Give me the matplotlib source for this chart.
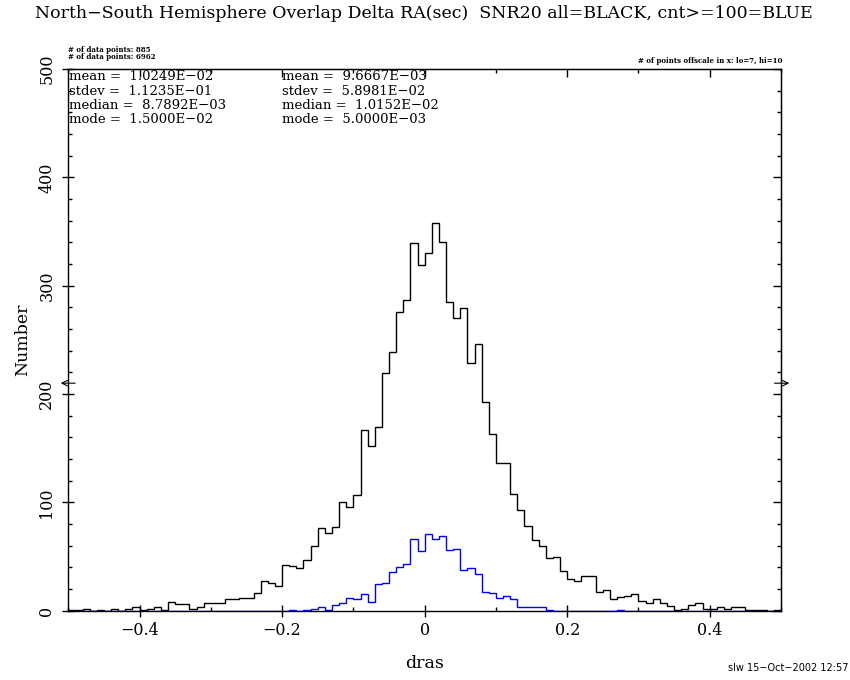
import numpy as np
import matplotlib
matplotlib.use('Agg')
import matplotlib.pyplot as plt
from matplotlib.ticker import FixedLocator, MultipleLocator
from matplotlib.transforms import blended_transform_factory

# bin edges: 0.01 wide from -0.5 to 0.5
BIN_EDGES = np.round(np.arange(-0.50, 0.5001, 0.01), 2)

# all sources (black), one count per bin
ALL_COUNTS = [
    1, 1, 2, 0, 1, 0, 2, 0, 2, 3,          # -0.50 .. -0.41
    1, 2, 3, 1, 8, 6, 6, 2, 3, 7,          # -0.40 .. -0.31
    7, 7, 11, 11, 12, 12, 16, 27, 26, 23,  # -0.30 .. -0.21
    42, 41, 39, 47, 60, 76, 72, 77, 100, 96,      # -0.20 .. -0.11
    107, 167, 152, 170, 219, 239, 276, 287, 339, 319,  # -0.10 .. -0.01
    330, 358, 340, 285, 270, 279, 229, 246, 193, 163,  # 0.00 .. 0.09
    136, 136, 108, 93, 78, 65, 60, 49, 50, 37,    # 0.10 .. 0.19
    29, 27, 32, 32, 17, 19, 11, 13, 14, 15,       # 0.20 .. 0.29
    9, 7, 11, 7, 4, 1, 2, 5, 7, 2,                # 0.30 .. 0.39
    2, 3, 2, 3, 3, 1, 1, 1, 0, 1,                 # 0.40 .. 0.49
]

# cnt>=100 subset (blue)
CNT100_COUNTS = [
    0, 0, 0, 0, 0, 0, 0, 0, 0, 0,
    0, 0, 0, 0, 0, 0, 0, 0, 0, 0,
    0, 0, 0, 0, 0, 0, 0, 0, 0, 0,
    0, 1, 0, 1, 2, 3, 1, 5, 7, 12,
    11, 15, 8, 25, 26, 36, 40, 43, 66, 55,
    71, 66, 69, 56, 57, 38, 39, 34, 17, 16,
    12, 14, 11, 3, 3, 3, 3, 1, 0, 0,
    0, 0, 0, 0, 0, 0, 0, 1, 0, 0,
    0, 0, 0, 0, 0, 0, 0, 0, 0, 0,
    0, 0, 0, 0, 0, 0, 0, 0, 0, 0,
]

XTICKS = [-0.4, -0.2, 0.0, 0.2, 0.4]
XTICK_LABELS = ['\u22120.4', '\u22120.2', '0', '0.2', '0.4']
YTICKS = [0, 100, 200, 300, 400, 500]
YTICK_LABELS = ['0', '100', '200', '300', '400', '500']
ARROW_Y = 210  # offscale marker level

STATS_ALL = ['mean =  1.0249E\u221202', 'stdev =  1.1235E\u221201',
             'median =  8.7892E\u221203', 'mode =  1.5000E\u221202']
STATS_CNT = ['mean =  9.6667E\u221203', 'stdev =  5.8981E\u221202',
             'median =  1.0152E\u221202', 'mode =  5.0000E\u221203']

SERIF = 'DejaVu Serif'
BLUE = '#0000FF'

fig = plt.figure(figsize=(8.5, 6.8), dpi=100)
ax = fig.add_axes([68.3 / 850, 69.3 / 680, 712.7 / 850, 541.7 / 680])

ax.stairs(ALL_COUNTS, BIN_EDGES, color='black', lw=1.0)
ax.stairs(CNT100_COUNTS, BIN_EDGES, color=BLUE, lw=1.0)

ax.set_xlim(-0.5, 0.5)
ax.set_ylim(0, 500)
for s in ax.spines.values():
    s.set_linewidth(1.0)

ax.xaxis.set_major_locator(FixedLocator(XTICKS))
ax.xaxis.set_minor_locator(MultipleLocator(0.1))
ax.yaxis.set_major_locator(FixedLocator(YTICKS))
ax.yaxis.set_minor_locator(MultipleLocator(20))
ax.set_xticklabels(XTICK_LABELS, family=SERIF, fontsize=11.5)
ax.set_yticklabels(YTICK_LABELS, family=SERIF, fontsize=11.5, rotation=90, va='center')
ax.tick_params(which='major', direction='inout', length=8.6, width=1.0)
ax.tick_params(which='minor', direction='in', length=3.0, width=1.0)
ax.tick_params(axis='x', which='major', pad=4.0)
ax.tick_params(axis='y', which='major', pad=5.0)

# ticks on the top and right, inside only
top = ax.secondary_xaxis('top')
top.xaxis.set_major_locator(FixedLocator(XTICKS))
top.xaxis.set_minor_locator(MultipleLocator(0.1))
top.tick_params(which='major', direction='in', length=5.8, width=1.0, labeltop=False)
top.tick_params(which='minor', direction='in', length=3.0, width=1.0)
right = ax.secondary_yaxis('right')
right.yaxis.set_major_locator(FixedLocator(YTICKS))
right.yaxis.set_minor_locator(MultipleLocator(20))
right.tick_params(which='major', direction='in', length=5.8, width=1.0, labelright=False)
right.tick_params(which='minor', direction='in', length=3.0, width=1.0)

ax.set_xlabel('dras', family=SERIF, fontsize=12.5, labelpad=11)
ax.set_ylabel('Number', family=SERIF, fontsize=12.5, labelpad=5)

# offscale arrows
tr = blended_transform_factory(ax.transAxes, ax.transData)
ax.annotate('', xy=(-0.0145, ARROW_Y), xytext=(0.0136, ARROW_Y), xycoords=tr,
            textcoords=tr, annotation_clip=False,
            arrowprops=dict(arrowstyle='->', color='black', lw=0.8))
ax.annotate('', xy=(1.0155, ARROW_Y), xytext=(0.987, ARROW_Y), xycoords=tr,
            textcoords=tr, annotation_clip=False,
            arrowprops=dict(arrowstyle='->', color='black', lw=0.8))

# texts
fig.text(424 / 850, 1 - 13 / 680, 'North\u2212South Hemisphere Overlap Delta RA(sec)  SNR20 all=BLACK, cnt>=100=BLUE',
         family=SERIF, fontsize=12.5, ha='center', va='center')
fig.text(68 / 850, 1 - 50 / 680, '# of data points: 885', family=SERIF, fontsize=5,
         fontweight='bold', ha='left', va='center')
fig.text(68 / 850, 1 - 57 / 680, '# of data points: 6962', family=SERIF, fontsize=5,
         fontweight='bold', ha='left', va='center')
fig.text(782 / 850, 1 - 61 / 680, '# of points offscale in x: lo=7, hi=10', family=SERIF,
         fontsize=5, fontweight='bold', ha='right', va='center')
for i, (a, b) in enumerate(zip(STATS_ALL, STATS_CNT)):
    yy = 1 - (77 + 14.3 * i) / 680
    fig.text(69 / 850, yy, a, family=SERIF, fontsize=9.5, ha='left', va='center')
    fig.text(282 / 850, yy, b, family=SERIF, fontsize=9.5, ha='left', va='center')
fig.text(848 / 850, 1 - 668 / 680, 'slw 15\u2212Oct\u22122002 12:57', family='DejaVu Sans',
         fontsize=7, ha='right', va='center')

fig.savefig('out.png', dpi=100, facecolor='white')
